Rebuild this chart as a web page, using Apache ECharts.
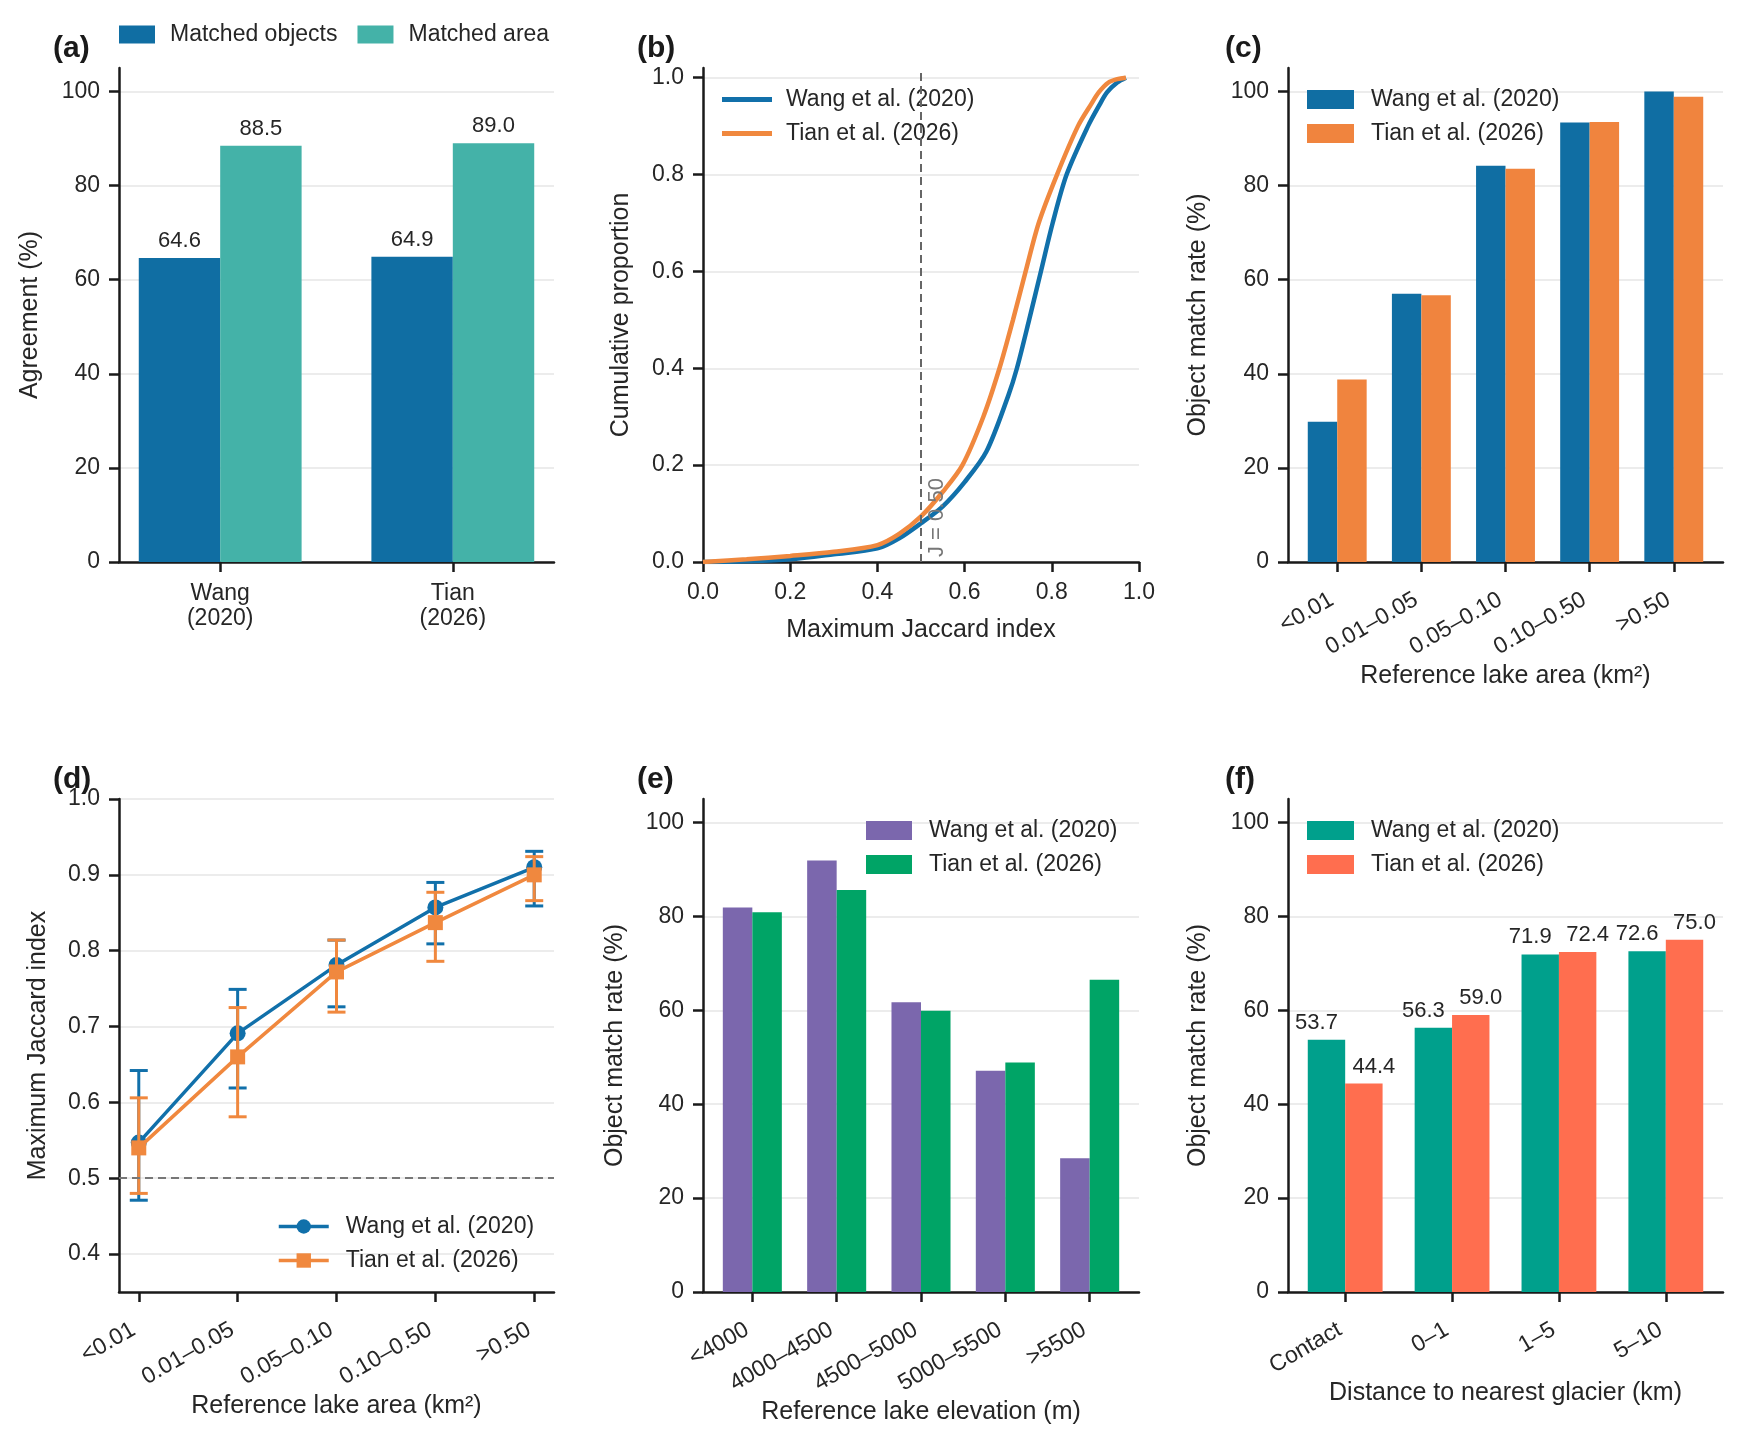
<!DOCTYPE html>
<html>
<head>
<meta charset="utf-8">
<title>Lake matching comparison</title>
<script src="https://cdn.jsdelivr.net/npm/echarts@6.0.0/dist/echarts.min.js"></script>
<style>
  html, body { margin: 0; padding: 0; background: #fff; }
  #main { width: 1749px; height: 1444px; }
</style>
</head>
<body>
<div id="main"></div>
<script>
// ---- data ----
// (a) overall agreement
const aCategories = ['Wang\n(2020)', 'Tian\n(2026)'];
const aMatchedObjects = [64.6, 64.9];
const aMatchedArea = [88.5, 89.0];

// (b) cumulative distribution of the maximum Jaccard index
const cdfWangJ = [0, 0.1, 0.2, 0.3, 0.4, 0.45, 0.5, 0.55, 0.6, 0.65, 0.7, 0.72, 0.748, 0.775, 0.802, 0.834, 0.883, 0.91, 0.927, 0.95, 0.97];
const cdfWangP = [0, 0.0015, 0.0055, 0.016, 0.028, 0.049, 0.08, 0.115, 0.165, 0.228, 0.343, 0.4, 0.5, 0.6, 0.7, 0.8, 0.9, 0.945, 0.97, 0.99, 1.0];
const cdfTianJ = [0, 0.1, 0.2, 0.3, 0.4, 0.45, 0.5, 0.55, 0.595, 0.643, 0.68, 0.711, 0.74, 0.77, 0.812, 0.86, 0.89, 0.908, 0.93, 0.95, 0.97];
const cdfTianP = [0, 0.0055, 0.0125, 0.021, 0.035, 0.058, 0.094, 0.145, 0.2, 0.3, 0.4, 0.5, 0.6, 0.7, 0.8, 0.9, 0.945, 0.97, 0.99, 0.997, 1.0];
const jaccardThreshold = 0.5;

// (c) object match rate by lake area
const areaBins = ['<0.01', '0.01–0.05', '0.05–0.10', '0.10–0.50', '>0.50'];
const areaRateWang = [29.8, 57.0, 84.2, 93.4, 100.0];
const areaRateTian = [38.8, 56.7, 83.6, 93.5, 98.9];

// (d) mean maximum Jaccard index by lake area, with error bars
const jacWang = [0.547, 0.691, 0.781, 0.857, 0.910];
const jacWangLo = [0.471, 0.619, 0.726, 0.809, 0.859];
const jacWangHi = [0.642, 0.749, 0.814, 0.890, 0.931];
const jacTian = [0.540, 0.660, 0.772, 0.837, 0.900];
const jacTianLo = [0.480, 0.581, 0.719, 0.786, 0.866];
const jacTianHi = [0.606, 0.725, 0.814, 0.877, 0.924];

// (e) object match rate by lake elevation
const elevBins = ['<4000', '4000–4500', '4500–5000', '5000–5500', '>5500'];
const elevRateWang = [81.9, 91.9, 61.7, 47.1, 28.5];
const elevRateTian = [80.9, 85.6, 59.9, 48.9, 66.5];

// (f) object match rate by distance to glacier
const distBins = ['Contact', '0–1', '1–5', '5–10'];
const distRateWang = [53.7, 56.3, 71.9, 72.6];
const distRateTian = [44.4, 59.0, 72.4, 75.0];

// tick labels
const pctTicks = [0, 20, 40, 60, 80, 100];
const propTicks = [0, 0.2, 0.4, 0.6, 0.8, 1.0];
const jacTicks = [0.4, 0.5, 0.6, 0.7, 0.8, 0.9, 1.0];

const WANG = 'Wang et al. (2020)';
const TIAN = 'Tian et al. (2026)';

// ---- styling ----
const FONT = "'Liberation Sans', Arial, Helvetica, sans-serif";
const TXT = '#262626';
const AXIS = '#1a1a1a';
const GRIDC = '#e6e6e6';
const HIDE = 'rgba(0,0,0,0)';
const TICK_FS = 23;

const grids = [
  {left: 119, top: 68, width: 435, height: 494},
  {left: 703, top: 68, width: 436, height: 494},
  {left: 1288, top: 68, width: 435, height: 494},
  {left: 119, top: 799, width: 435, height: 493},
  {left: 703, top: 799, width: 436, height: 493},
  {left: 1288, top: 799, width: 435, height: 493}
];

function pairs(xs, ys) {
  return xs.map((x, i) => [x, ys[i]]);
}
function indexed(vals) {
  return vals.map((v, i) => [i, v]);
}
// matplotlib-like limits for grouped bars of width 0.35
function barLimits(n) {
  const m = 0.05 * (n - 1 + 0.7);
  return [-0.35 - m, n - 1 + 0.35 + m];
}

function axisName(name, gap) {
  return {
    name: name, nameLocation: 'middle', nameGap: gap,
    nameTextStyle: {fontSize: 25, color: TXT, fontFamily: FONT}
  };
}

function catXAxis(gi, cats, lim, name, gap, rotate) {
  const idx = cats.map((c, i) => i);
  return Object.assign({
    type: 'value', gridIndex: gi, min: lim[0], max: lim[1],
    axisLine: {show: true, onZero: false, lineStyle: {color: AXIS, width: 2.5}},
    axisTick: {show: true, customValues: idx, length: 10, lineStyle: {color: AXIS, width: 2.5}},
    axisLabel: {
      customValues: idx, formatter: v => cats[Math.round(v)],
      rotate: rotate, margin: rotate ? 33 : 19, padding: rotate ? [0, 6, 0, 0] : 0,
      fontSize: TICK_FS, lineHeight: 25, color: TXT, fontFamily: FONT
    },
    splitLine: {show: false}
  }, axisName(name, gap));
}

function numAxis(gi, min, max, interval, ticks, digits, name, gap, lineColors) {
  return Object.assign({
    type: 'value', gridIndex: gi, min: min, max: max, interval: interval,
    axisLine: {show: true, onZero: false, lineStyle: {color: AXIS, width: 2.5}},
    axisTick: {show: true, customValues: ticks, length: 10, lineStyle: {color: AXIS, width: 2.5}},
    axisLabel: {
      customValues: ticks, formatter: v => v.toFixed(digits),
      margin: 19, fontSize: TICK_FS, color: TXT, fontFamily: FONT
    },
    splitLine: lineColors ? {show: true, lineStyle: {color: lineColors, width: 1.5}} : {show: false}
  }, axisName(name, gap));
}

const pctLines = [GRIDC, GRIDC, GRIDC, GRIDC, GRIDC, GRIDC, HIDE];

function legendBox(left, top, names, w, h, pad, icon) {
  const l = {
    left: left, top: top, orient: 'vertical', data: names, padding: 0,
    itemWidth: w, itemHeight: h, itemGap: 11, selectedMode: false,
    textStyle: {fontSize: 23, color: TXT, fontFamily: FONT, padding: [0, 0, 0, pad]}
  };
  if (icon) l.icon = icon;
  return l;
}

function barSeries(name, gi, vals, color, withLabel, shift) {
  return {
    type: 'bar', name: name, xAxisIndex: gi, yAxisIndex: gi,
    data: indexed(vals), barWidth: '35%', barGap: '0%',
    itemStyle: {color: color},
    label: withLabel ? {
      show: true, position: 'top', distance: 6, fontSize: 22, color: TXT, fontFamily: FONT,
      offset: [shift || 0, 0],
      formatter: p => p.value[1].toFixed(1)
    } : {show: false}
  };
}

function errorSeries(gi, lo, hi, color, z) {
  return {
    type: 'custom', xAxisIndex: gi, yAxisIndex: gi, z: z,
    data: lo.map((v, i) => [i, v, hi[i]]),
    encode: {x: 0, y: [1, 2]},
    renderItem: function (params, api) {
      const p1 = api.coord([api.value(0), api.value(1)]);
      const p2 = api.coord([api.value(0), api.value(2)]);
      const w = 9;
      const st = {stroke: color, lineWidth: 3};
      return {
        type: 'group',
        children: [
          {type: 'line', shape: {x1: p1[0], y1: p1[1], x2: p2[0], y2: p2[1]}, style: st},
          {type: 'line', shape: {x1: p1[0] - w, y1: p1[1], x2: p1[0] + w, y2: p1[1]}, style: st},
          {type: 'line', shape: {x1: p2[0] - w, y1: p2[1], x2: p2[0] + w, y2: p2[1]}, style: st}
        ]
      };
    }
  };
}

// legend names must be unique per panel so the colours stay separate
const nm = (base, k) => base + ' '.repeat(k);

const blue = '#1170aa', orange = '#f0883e';

const legends = [
  Object.assign(legendBox(119, 23, ['Matched objects', 'Matched area'], 36, 18, 10, 'rect'), {orient: 'horizontal', itemGap: 20}),
  legendBox(722, 88, [nm(WANG, 1), nm(TIAN, 1)], 50, 5, 9, 'rect'),
  legendBox(1307, 88, [nm(WANG, 2), nm(TIAN, 2)], 47, 19, 12, 'rect'),
  Object.assign(legendBox(277, 1215, [nm(WANG, 3), nm(TIAN, 3)], 50, 18, 12), {lineStyle: {width: 3.5}}),
  legendBox(866, 819, [nm(WANG, 4), nm(TIAN, 4)], 46, 19, 12, 'rect'),
  legendBox(1307, 819, [nm(WANG, 5), nm(TIAN, 5)], 47, 19, 12, 'rect')
];

const option = {
  animation: false,
  backgroundColor: '#fff',
  textStyle: {fontFamily: FONT},
  title: [
    {text: '(a)', left: 48, top: 29},
    {text: '(b)', left: 632, top: 29},
    {text: '(c)', left: 1220, top: 29},
    {text: '(d)', left: 48, top: 760},
    {text: '(e)', left: 632, top: 760},
    {text: '(f)', left: 1220, top: 760}
  ].map(t => Object.assign(t, {textStyle: {fontSize: 30, fontWeight: 'bold', color: '#1a1a1a', fontFamily: FONT}})),
  grid: grids,
  legend: legends,
  xAxis: [
    catXAxis(0, aCategories, barLimits(2), '', 0, 0),
    numAxis(1, 0, 1, 0.2, propTicks, 1, 'Maximum Jaccard index', 56, null),
    catXAxis(2, areaBins, barLimits(5), 'Reference lake area (km²)', 102, 30),
    catXAxis(3, areaBins, [-0.2, 4.2], 'Reference lake area (km²)', 102, 30),
    catXAxis(4, elevBins, barLimits(5), 'Reference lake elevation (m)', 108, 30),
    catXAxis(5, distBins, barLimits(4), 'Distance to nearest glacier (km)', 86, 30)
  ],
  yAxis: [
    numAxis(0, 0, 105, 20, pctTicks, 0, 'Agreement (%)', 76, pctLines),
    numAxis(1, 0, 1.02, 0.2, propTicks, 1, 'Cumulative proportion', 69, pctLines),
    numAxis(2, 0, 105, 20, pctTicks, 0, 'Object match rate (%)', 77, pctLines),
    numAxis(3, 0.35, 1.0, undefined, jacTicks, 1, 'Maximum Jaccard index', 68, GRIDC),
    numAxis(4, 0, 105, 20, pctTicks, 0, 'Object match rate (%)', 75, pctLines),
    numAxis(5, 0, 105, 20, pctTicks, 0, 'Object match rate (%)', 77, pctLines)
  ],
  series: [
    // (a)
    barSeries('Matched objects', 0, aMatchedObjects, '#106ea3', true),
    barSeries('Matched area', 0, aMatchedArea, '#44b2a8', true),
    // (b)
    {
      type: 'line', name: nm(WANG, 1), xAxisIndex: 1, yAxisIndex: 1,
      data: pairs(cdfWangJ, cdfWangP), symbol: 'none', smooth: 0.3,
      lineStyle: {color: blue, width: 4.5}, itemStyle: {color: blue},
      markLine: {
        silent: true, symbol: 'none',
        data: [{xAxis: jaccardThreshold}],
        lineStyle: {color: '#666', width: 2, type: [8, 5]},
        label: {
          show: true, formatter: 'J = 0.50', position: 'insideStartBottom',
          color: '#777', fontSize: 22, fontFamily: FONT
        }
      }
    },
    {
      type: 'line', name: nm(TIAN, 1), xAxisIndex: 1, yAxisIndex: 1,
      data: pairs(cdfTianJ, cdfTianP), symbol: 'none', smooth: 0.3,
      lineStyle: {color: orange, width: 4.5}, itemStyle: {color: orange}
    },
    // (c)
    barSeries(nm(WANG, 2), 2, areaRateWang, '#106ea3', false),
    barSeries(nm(TIAN, 2), 2, areaRateTian, '#f0843e', false),
    // (d)
    {
      type: 'line', name: nm(WANG, 3), xAxisIndex: 3, yAxisIndex: 3, z: 3,
      data: indexed(jacWang), symbol: 'circle', symbolSize: 16,
      lineStyle: {color: blue, width: 3.5}, itemStyle: {color: blue},
      markLine: {
        silent: true, symbol: 'none',
        data: [{yAxis: jaccardThreshold}],
        lineStyle: {color: '#777', width: 2, type: [8, 5]},
        label: {show: false}
      }
    },
    errorSeries(3, jacWangLo, jacWangHi, blue, 3),
    {
      type: 'line', name: nm(TIAN, 3), xAxisIndex: 3, yAxisIndex: 3, z: 4,
      data: indexed(jacTian), symbol: 'rect', symbolSize: 15,
      lineStyle: {color: orange, width: 3.5}, itemStyle: {color: orange}
    },
    errorSeries(3, jacTianLo, jacTianHi, orange, 4),
    // (e)
    barSeries(nm(WANG, 4), 4, elevRateWang, '#7b67ad', false),
    barSeries(nm(TIAN, 4), 4, elevRateTian, '#00a466', false),
    // (f)
    barSeries(nm(WANG, 5), 5, distRateWang, '#00a08c', true, -10),
    barSeries(nm(TIAN, 5), 5, distRateTian, '#ff6e4f', true, 10)
  ]
};

const chart = echarts.init(document.getElementById('main'));
chart.setOption(option);
</script>
</body>
</html>
